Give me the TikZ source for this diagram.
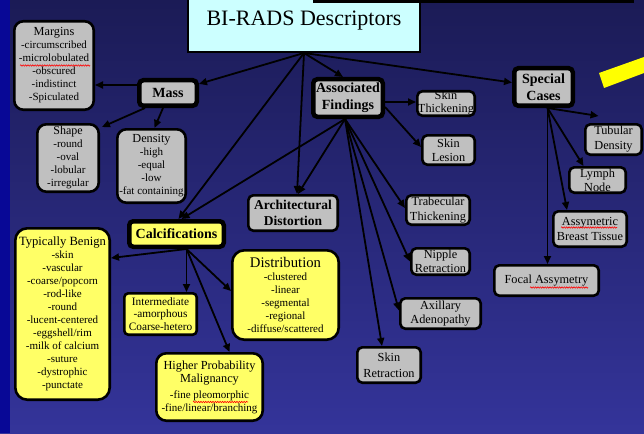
\documentclass[tikz,border=0pt]{standalone}
\usepackage{fontspec}
\setmainfont{Liberation Serif}
\usetikzlibrary{arrows.meta,decorations.pathmorphing}

\definecolor{bgtop}{RGB}{27,27,86}
\definecolor{bgbot}{RGB}{52,52,154}
\definecolor{stripblue}{RGB}{8,8,150}
\definecolor{boxgray}{RGB}{192,192,192}
\definecolor{boxyellow}{RGB}{255,255,102}
\definecolor{titlecyan}{RGB}{204,255,255}
\definecolor{markyellow}{RGB}{255,255,0}

\newcommand\setfs[2]{\fontsize{#1}{#2}\selectfont}

\tikzset{
  arr/.style={line width=1.8pt, -{Triangle[length=8pt,width=7pt]}},
  gbox/.style={draw=black, line width=2.6pt, fill=boxgray, rounded corners=5pt,
    inner sep=0pt, align=center, font=\setfs{12.3}{14.3}},
  hub/.style={gbox, line width=4.5pt, rounded corners=4pt, font=\bfseries\setfs{14}{17}},
  listbox/.style={gbox, rounded corners=9pt, font=\setfs{11}{13}},
  ybox/.style={listbox, fill=boxyellow},
  spell/.style={red, line width=0.6pt, decorate,
    decoration={snake, amplitude=0.7pt, segment length=2.4pt}}
}

\begin{document}
\begin{tikzpicture}[x=1pt,y=-1pt]
\useasboundingbox (0,0) rectangle (644,433);

% backdrop
\shade[top color=bgtop, bottom color=bgbot] (0,0) rectangle (644,433);
\fill[stripblue] (0,0) rectangle (10,433);

% title
\node[draw=black, line width=2pt, fill=titlecyan, minimum width=232pt,
      minimum height=62pt, inner sep=0pt, font=\setfs{22}{24}] (title) at (304,21)
      {BI-RADS Descriptors};
\fill[black] (313,0) rectangle (634,3);
\fill[markyellow] (599,73) -- (644,57) -- (644,73) -- (604,88) -- cycle;

% mass branch
\node[hub, minimum width=57.5pt, minimum height=25.5pt] (mass) at (168,93) {Mass};
\node[listbox, minimum width=79.4pt, minimum height=88.4pt] (margins) at (54,65.5)
  {{\setfs{12.3}{13}Margins}\\-circumscribed\\-microlobulated\\-obscured\\-indistinct\\-Spiculated};
\node[listbox, minimum width=61.4pt, minimum height=67.4pt] (shape) at (68,158)
  {{\setfs{12}{13}Shape}\\-round\\-oval\\-lobular\\-irregular};
\node[listbox, minimum width=68.4pt, minimum height=73.4pt] (density) at (151.5,166)
  {{\setfs{12.3}{13}Density}\\-high\\-equal\\-low\\-fat containing};

% architectural distortion
\node[gbox, font=\bfseries\setfs{13.5}{16}, minimum width=89.4pt, minimum height=35.4pt]
  (arch) at (293,213) {Architectural\\Distortion};

% calcifications branch
\node[hub, fill=boxyellow, minimum width=94.5pt, minimum height=25.5pt] (calc) at (176.5,234)
  {Calcifications};
\node[ybox, rounded corners=12pt, minimum width=94.4pt, minimum height=171.4pt] (benign) at (62.5,314)
  {{\setfs{12.6}{13}Typically Benign}\\-skin\\-vascular\\-coarse/popcorn\\-rod-like\\-round\\-lucent-centered\\-eggshell/rim\\-milk of calcium\\-suture\\-dystrophic\\-punctate};
\node[ybox, rounded corners=4pt, font=\setfs{11.3}{12.5}, minimum width=72.4pt, minimum height=41.4pt]
  (interm) at (160.5,314) {Intermediate\\-amorphous\\Coarse-hetero};
\node[ybox, rounded corners=12pt, minimum width=106.4pt, minimum height=89.4pt] (distrib) at (285.5,295)
  {{\setfs{14.7}{15}Distribution}\\-clustered\\-linear\\-segmental\\-regional\\-diffuse/scattered};
\node[ybox, rounded corners=10pt, minimum width=106.4pt, minimum height=67.4pt] (higher) at (209.5,387)
  {{\setfs{12.3}{15}Higher Probability}\\{\setfs{12.3}{15}Malignancy}\\[3pt]-fine pleomorphic\\-fine/linear/branching};

% associated findings branch
\node[hub, minimum width=69.5pt, minimum height=37.5pt] (assoc) at (348,98) {Associated\\Findings};
\node[gbox, font=\setfs{12.3}{13}, minimum width=57.4pt, minimum height=24.4pt] (skinthick) at (446,103.5)
  {Skin\\Thickening};
\node[gbox, minimum width=52.4pt, minimum height=29.4pt] (skinles) at (448.5,150) {Skin\\Lesion};
\node[gbox, minimum width=63.4pt, minimum height=29.4pt] (trab) at (438,210) {Trabecular\\Thickening};
\node[gbox, minimum width=58.4pt, minimum height=26.4pt] (nipple) at (440.5,261.5) {Nipple\\Retraction};
\node[gbox, minimum width=80.4pt, minimum height=30.4pt] (axill) at (440.5,313.5) {Axillary\\Adenopathy};
\node[gbox, font=\setfs{12.3}{16}, minimum width=63.4pt, minimum height=35.4pt] (skinret) at (389,365)
  {Skin\\Retraction};

% special cases branch
\node[hub, minimum width=58.5pt, minimum height=37.5pt] (special) at (543.5,87) {Special\\Cases};
\node[gbox, font=\setfs{12.3}{15}, minimum width=56.4pt, minimum height=30.4pt] (tubular) at (613.5,139.5)
  {Tubular\\Density};
\node[gbox, minimum width=56.4pt, minimum height=25.4pt] (lymph) at (597.5,180) {Lymph\\Node};
\node[gbox, minimum width=73.4pt, minimum height=35.4pt] (asym) at (590,229) {Assymetric\\Breast Tissue};
\node[gbox, minimum width=104.4pt, minimum height=30.4pt] (focal) at (546.5,280.5) {Focal Assymetry};

% spell-check marks under flagged words
\draw[spell] (20,65.5) -- (90,65.5);
\draw[spell] (193,402) -- (248,402);
\draw[spell] (561,227.5) -- (617,227.5);
\draw[spell] (530,287.5) -- (588,287.5);

% connectors from the title
\draw[arr] (title.south) -- (mass);
\draw[arr] (title.south) -- ([xshift=-5pt]assoc.north);
\draw[arr] (title.south) -- (special);
\draw[arr] (title.south) -- ([xshift=4pt]arch.north);
\draw[arr] (title.south) -- ([xshift=2pt]calc.north);

% mass
\draw[arr] ([yshift=8pt]mass.west) -- ([yshift=8pt]mass.west -| margins.east);
\draw[arr] ([xshift=-23pt]mass.south) -- ([xshift=2pt,yshift=-4pt]shape.north east);
\draw[arr] ([xshift=-5pt]mass.south) -- ([xshift=3pt]density.north);

% calcifications
\coordinate (cs) at ([xshift=10pt]calc.south);
\draw[arr] (cs) -- ([yshift=56pt]benign.east);
\draw[arr] (cs) -- (cs |- interm.north);
\draw[arr] (cs) -- ([yshift=4pt]distrib.west);
\draw[arr] (cs) -- ([xshift=20pt]higher.north);

% associated findings
\coordinate (as) at ([xshift=-3pt]assoc.south);
\draw[arr] ([yshift=-4pt]assoc.east) -- ([yshift=-4pt]assoc.east -| skinthick.west);
\draw[arr] ([yshift=-9pt]assoc.east) -- ([yshift=3pt]skinles.west);
\draw[arr] (as) -- ([yshift=2pt]trab.west);
\draw[arr] (as) -- (nipple.west);
\draw[arr] (as) -- ([yshift=3pt]axill.west);
\draw[arr] (as) -- ([xshift=-7pt]skinret.north);
\draw[arr] (as) -- ([xshift=5pt]arch.north);
\draw[arr] (as) -- ([xshift=5pt]calc.north);

% special cases
\coordinate (sc) at ([xshift=4pt]special.south);
\draw[arr] (sc) -- ([xshift=-15pt,yshift=7pt]tubular.north);
\draw[arr] (sc) -- ([xshift=-14pt]lymph.north);
\draw[arr] (sc) -- ([xshift=-23pt]asym.north);
\draw[arr] (sc) -- (sc |- focal.north);
\end{tikzpicture}
\end{document}
